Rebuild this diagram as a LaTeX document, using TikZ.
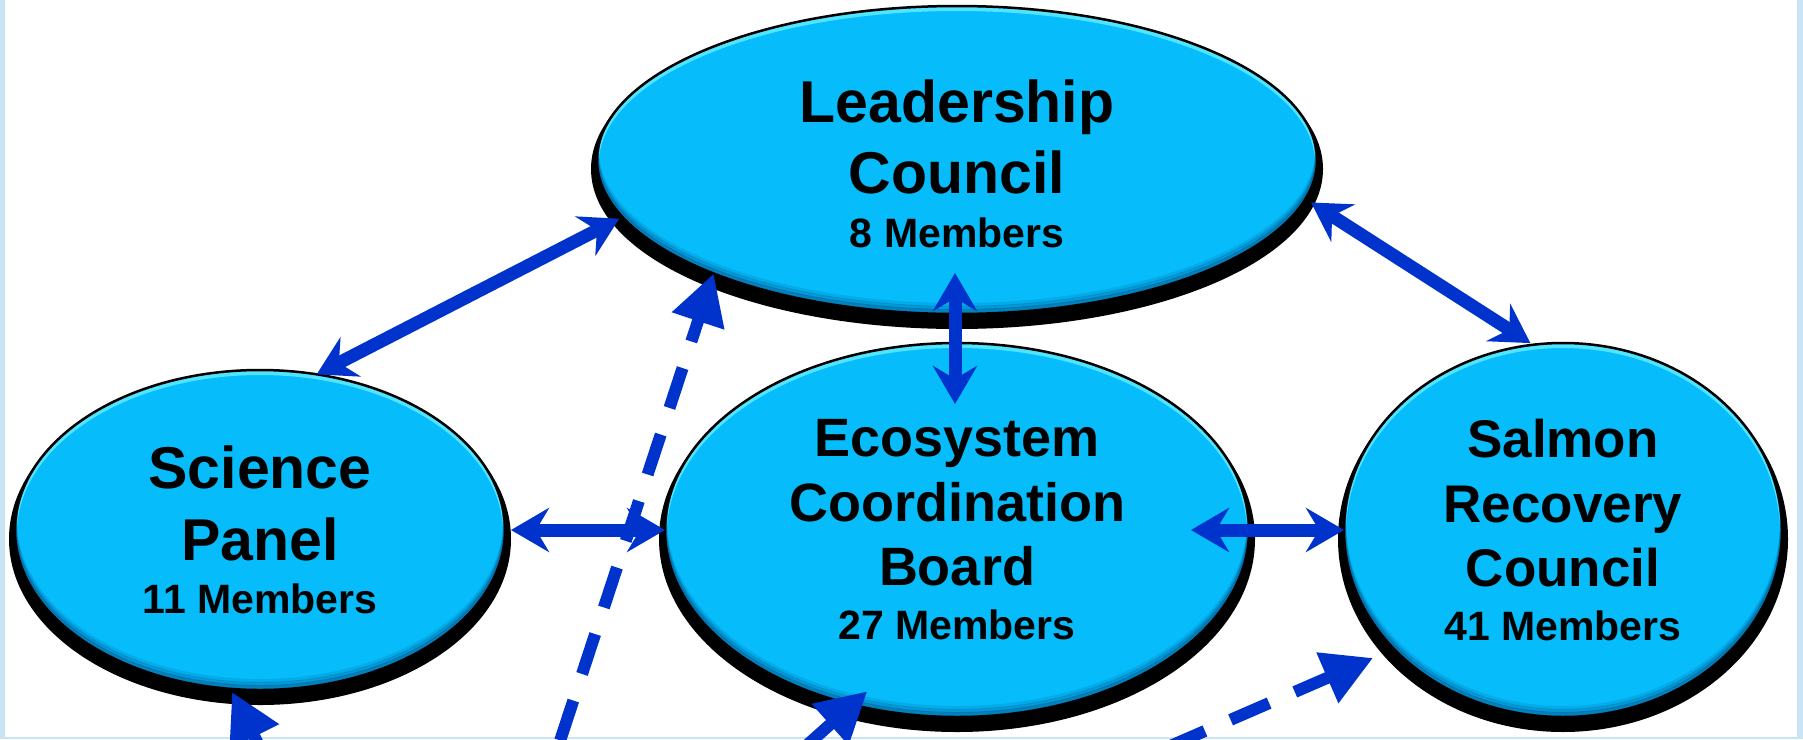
\documentclass[tikz,border=0pt]{standalone}
\usepackage{fontspec}
\setmainfont{Liberation Sans}
\usetikzlibrary{arrows.meta,shapes.geometric,shadows}

\definecolor{bubblefill}{RGB}{6,188,250}
\definecolor{rimlight}{RGB}{80,228,255}
\definecolor{rimdark}{RGB}{0,105,165}
\definecolor{linkblue}{RGB}{0,51,204}
\definecolor{frameblue}{RGB}{200,228,245}

\tikzset{
  % bevelled ellipse with a hard black drop shadow; #1 = width, #2 = height
  bubble/.style 2 args={
    ellipse, minimum width=#1, minimum height=#2, inner sep=0pt, outer sep=0pt,
    align=center, fill=bubblefill, draw=black, line width=2.5pt,
    drop shadow={shadow xshift=0pt, shadow yshift=-9pt, fill=black, draw=black,
                 line width=12pt, opacity=1},
    path picture={
      \draw[rimlight, line width=4pt]
        ([yshift=-3pt]path picture bounding box.center) ellipse [x radius=#1/2, y radius=#2/2];
      \draw[rimdark, line width=4pt, opacity=.2]
        ([yshift=9pt]path picture bounding box.center) ellipse [x radius=#1/2, y radius=#2/2];
      \draw[rimdark, line width=4pt, opacity=.4]
        ([yshift=6pt]path picture bounding box.center) ellipse [x radius=#1/2, y radius=#2/2];
      \draw[rimdark, line width=4pt, opacity=.7]
        ([yshift=3pt]path picture bounding box.center) ellipse [x radius=#1/2, y radius=#2/2];
    }},
  twoway/.style={draw=linkblue, line width=13pt,
    {Stealth[length=38pt,width=44pt,inset=13pt]}-{Stealth[length=38pt,width=44pt,inset=13pt]}},
  inflow/.style={draw=linkblue, line width=12pt, -{Triangle[length=50pt,width=52pt]}},
  inflowdash/.style={inflow, dash pattern=on 42pt off 28pt}
}

\newcommand{\memberfont}{\fontsize{41}{49}\selectfont}

\begin{document}
\begin{tikzpicture}[x=1pt, y=-1pt]
  \useasboundingbox (0,0) rectangle (1803,739);
  \fill[white] (0,0) rectangle (1803,739);

  % thin frame along left, right and bottom
  \fill[frameblue] (0,0) rectangle (5,739);
  \fill[frameblue] (1797,0) rectangle (1803,739);
  \fill[frameblue] (0,737) rectangle (1803,739);

  % bodies
  \node[bubble={720pt}{308pt}, font=\bfseries\fontsize{59}{71}\selectfont] (lc) at (957,160)
    {\rule{0pt}{51pt}Leadership\\Council\\[-17pt]{\memberfont 8 Members}};
  \node[bubble={490pt}{320pt}, font=\bfseries\fontsize{59}{72}\selectfont] (sp) at (260,530)
    {Science\\Panel\\[-19pt]{\memberfont 11 Members}};
  \node[bubble={584pt}{374pt}, font=\bfseries\fontsize{54}{64.5}\selectfont] (ecb) at (957,530)
    {Ecosystem\\Coordination\\Board\\[-10.5pt]{\memberfont 27 Members}};
  \node[bubble={438pt}{374pt}, font=\bfseries\fontsize{53}{64.5}\selectfont] (srv) at (1563,530)
    {Salmon\\Recovery\\Council\\[-10.5pt]{\memberfont 41 Members}};

  % two-way links
  \draw[twoway] ([xshift=-5pt]lc.190.4) -- (sp.70.6);
  \draw[twoway] ([xshift=-2pt,yshift=41pt]lc.south) -- ([xshift=-2pt,yshift=-61pt]ecb.north);
  \draw[twoway] ([xshift=8pt]lc.-7) -- ([yshift=2pt]srv.100.6);
  \draw[twoway] ([xshift=6pt]sp.east) -- (ecb.west);
  \draw[twoway] ([xshift=-58pt]ecb.east) -- (srv.west);

  % links coming in from below
  \begin{scope}
    \clip (0,0) rectangle (1803,739);
    \coordinate (up1) at (550.5,769.9);
    \coordinate (up2) at (272.4,772.5);
    \coordinate (up3) at (786.4,763.5);
    \coordinate (up4) at (1115,770);
    \draw[inflowdash, dash phase=39pt] (up1) -- (lc.205.6);
    \draw[inflow] (up2) -- ([yshift=-3pt]sp.260.2);
    \draw[inflow] (up3) -- ([xshift=8pt,yshift=15pt]ecb.241.8);
    \draw[inflowdash, dash phase=14pt] (up4) -- ([xshift=-18pt,yshift=-12pt]srv.214);
  \end{scope}
\end{tikzpicture}
\end{document}
